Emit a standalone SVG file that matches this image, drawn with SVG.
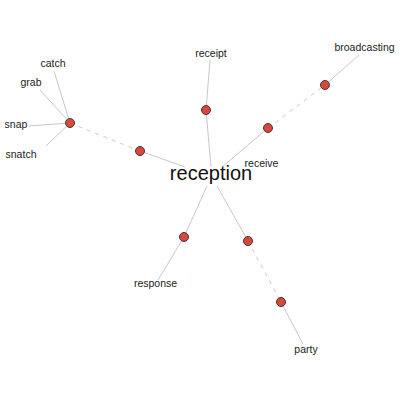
<svg xmlns="http://www.w3.org/2000/svg" width="400" height="400" viewBox="0 0 400 400">
<style>
.e{stroke:#c8c8c8;stroke-width:1;fill:none}
.d{stroke-dasharray:4,5}
.n{fill:#d9483b;stroke:#3a3a3a;stroke-width:1}
.l{font-family:"Liberation Sans",Arial,sans-serif;font-size:10.5px;fill:#222;text-anchor:middle}
.c{font-family:"Liberation Sans",Arial,sans-serif;font-size:20px;fill:#111;text-anchor:middle}
</style>
<rect width="400" height="400" fill="#fff"/>
<g id="connectors">
<line class="e" x1="70" y1="123" x2="54" y2="71"/>
<line class="e" x1="70" y1="123" x2="40" y2="90"/>
<line class="e" x1="70" y1="123" x2="28" y2="126"/>
<line class="e" x1="70" y1="123" x2="46" y2="146"/>
<line class="e d" x1="70" y1="123" x2="140" y2="151"/>
<line class="e" x1="140" y1="151" x2="185" y2="167"/>
<line class="e" x1="206" y1="110" x2="210" y2="60"/>
<line class="e" x1="206" y1="110" x2="211" y2="167"/>
<line class="e" x1="268" y1="128" x2="222" y2="167"/>
<line class="e d" x1="268" y1="128" x2="325" y2="85"/>
<line class="e" x1="325" y1="85" x2="359" y2="55"/>
<line class="e" x1="184" y1="237" x2="207" y2="186"/>
<line class="e" x1="184" y1="237" x2="158" y2="280"/>
<line class="e" x1="248" y1="241" x2="217" y2="186"/>
<line class="e d" x1="248" y1="241" x2="281" y2="302"/>
<line class="e" x1="281" y1="302" x2="303" y2="344"/>
</g>
<g id="reception"><text class="c" x="211" y="180">reception</text></g>
<g id="hub"><circle class="n" cx="70" cy="123" r="4.5"/></g>
<g id="catch"><text class="l" x="53" y="67">catch</text></g>
<g id="grab"><text class="l" x="31" y="86">grab</text></g>
<g id="snap"><text class="l" x="16" y="128">snap</text></g>
<g id="snatch"><text class="l" x="21" y="158">snatch</text></g>
<g id="node-left"><circle class="n" cx="140" cy="151" r="4.5"/></g>
<g id="receipt-node"><circle class="n" cx="206" cy="110" r="4.5"/></g>
<g id="receipt"><text class="l" x="211" y="57">receipt</text></g>
<g id="receive-node"><circle class="n" cx="268" cy="128" r="4.5"/></g>
<g id="receive"><text class="l" x="261.5" y="167">receive</text></g>
<g id="broadcasting-node"><circle class="n" cx="325" cy="85" r="4.5"/></g>
<g id="broadcasting"><text class="l" x="364.5" y="51">broadcasting</text></g>
<g id="response-node"><circle class="n" cx="184" cy="237" r="4.5"/></g>
<g id="response"><text class="l" x="155.5" y="287">response</text></g>
<g id="party-node1"><circle class="n" cx="248" cy="241" r="4.5"/></g>
<g id="party-node2"><circle class="n" cx="281" cy="302" r="4.5"/></g>
<g id="party"><text class="l" x="306" y="353">party</text></g>
</svg>
